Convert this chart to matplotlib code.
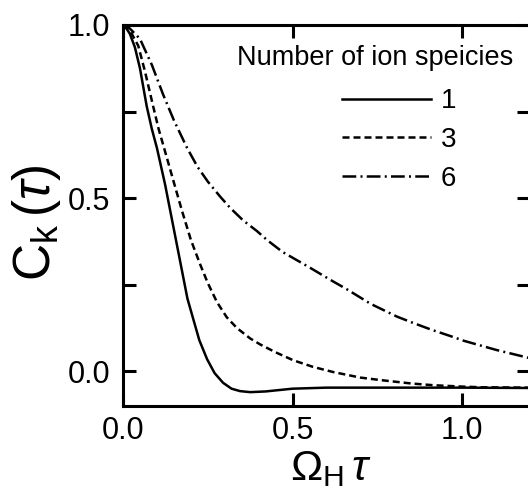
import matplotlib
matplotlib.use("Agg")
import matplotlib.pyplot as plt
from matplotlib.ticker import FixedFormatter, FixedLocator

plt.rcParams['font.family'] = ['Liberation Sans', 'DejaVu Sans']
plt.rcParams['mathtext.fontset'] = 'custom'
plt.rcParams['mathtext.rm'] = 'Liberation Sans'
plt.rcParams['mathtext.it'] = 'Liberation Sans:italic'

# curve data: C_k(tau) vs Omega_H tau
x_one = [0, 0.01, 0.02, 0.035, 0.05, 0.07, 0.085, 0.10, 0.124, 0.148, 0.165, 0.177, 0.19, 0.206,
         0.225, 0.248, 0.27, 0.295, 0.32, 0.345, 0.375, 0.42, 0.5, 0.6, 0.8, 1.0, 1.2]
y_one = [1.0, 0.99, 0.975, 0.936, 0.875, 0.765, 0.70, 0.645, 0.54, 0.42, 0.335, 0.275, 0.21, 0.155,
         0.09, 0.035, -0.005, -0.033, -0.05, -0.057, -0.06, -0.058, -0.05, -0.047, -0.047, -0.047, -0.048]

x_three = [0, 0.02, 0.045, 0.065, 0.089, 0.105, 0.124, 0.153, 0.175, 0.2, 0.227, 0.25,
           0.277, 0.306, 0.336, 0.375, 0.404, 0.45, 0.502, 0.56, 0.62, 0.7, 0.767, 0.85, 0.915,
           1.0, 1.06, 1.2]
y_three = [1.0, 0.985, 0.94, 0.865, 0.765, 0.7, 0.635, 0.535, 0.46, 0.38, 0.31, 0.255,
           0.2, 0.156, 0.125, 0.095, 0.078, 0.055, 0.032, 0.013, -0.002, -0.018, -0.026, -0.035, -0.04,
           -0.044, -0.046, -0.047]

x_six = [0, 0.02, 0.05, 0.085, 0.118, 0.15, 0.189, 0.22, 0.25, 0.286, 0.316, 0.354, 0.395,
         0.425, 0.47, 0.55, 0.61, 0.66, 0.73, 0.808, 0.855, 0.91, 0.965, 1.006, 1.1, 1.2]
y_six = [1.0, 0.99, 0.96, 0.885, 0.8, 0.725, 0.645, 0.59, 0.548, 0.505, 0.472, 0.436, 0.405,
         0.379, 0.345, 0.3, 0.265, 0.237, 0.195, 0.158, 0.14, 0.12, 0.102, 0.088, 0.062, 0.038]

species = ['1', '3', '6']
legend_title = 'Number of ion speicies'
x_ticks = [0.0, 0.5, 1.0]
x_ticklabels = ['0.0', '0.5', '1.0']
y_ticks = [0.0, 0.25, 0.5, 0.75, 1.0]
y_ticklabels = ['0.0', '', '0.5', '', '1.0']

fig = plt.figure(figsize=(5.28, 4.91), dpi=100)
ax = fig.add_axes([123 / 528, 1 - 406 / 491, 407 / 528, 381 / 491])

lw = 1.8
ax.plot(x_one, y_one, color='black', lw=lw, label=species[0])
ax.plot(x_three, y_three, color='black', lw=lw, dashes=(2.8, 1.6), label=species[1])
ax.plot(x_six, y_six, color='black', lw=lw, dashes=(5.5, 1.7, 0.8, 1.7), label=species[2])

ax.set_xlim(0, 1.2)
ax.set_ylim(-0.1, 1.0)

ax.xaxis.set_major_locator(FixedLocator(x_ticks))
ax.xaxis.set_major_formatter(FixedFormatter(x_ticklabels))
ax.yaxis.set_major_locator(FixedLocator(y_ticks))
ax.yaxis.set_major_formatter(FixedFormatter(y_ticklabels))
ax.tick_params(direction='in', length=9.5, width=2.2, labelsize=22,
               top=True, right=True)
ax.tick_params(axis='y', pad=9)
ax.tick_params(axis='x', pad=7)
for s in ax.spines.values():
    s.set_linewidth(2.2)

ax.set_ylabel(r'$\mathrm{C}_\mathrm{k}\,(\tau)$', fontsize=37)
ax.yaxis.set_label_coords(-0.148, 0.48)
ax.set_xlabel(r'$\Omega_\mathrm{H}\,\tau$', fontsize=31)
ax.xaxis.set_label_coords(0.51, -0.112)

ax.text((237 - 123) / 407, (406 - 58) / 381, legend_title, fontsize=19.5,
        ha='left', va='center', transform=ax.transAxes)
ax.legend(loc='center left', bbox_to_anchor=((342 - 123) / 407, (406 - 140) / 381),
          frameon=False, fontsize=20, borderpad=0, borderaxespad=0,
          handlelength=3.2, handletextpad=0.35, labelspacing=0.45)

fig.savefig('out.png', dpi=100)
